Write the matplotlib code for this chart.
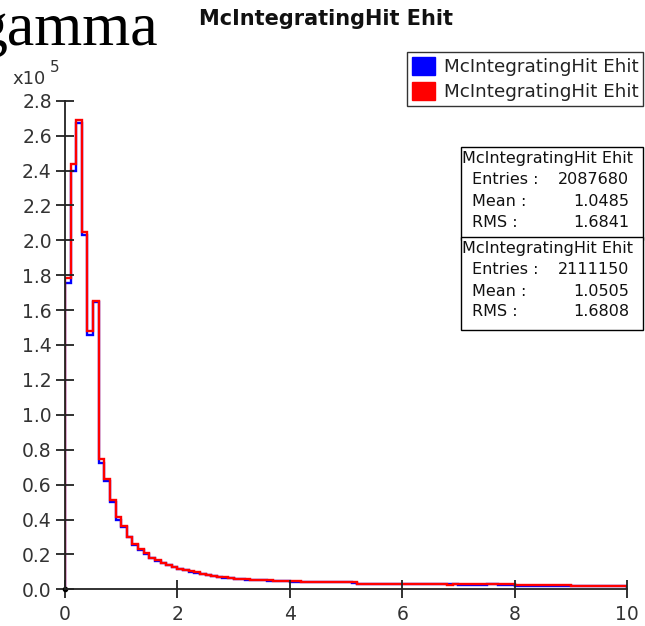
import numpy as np
import matplotlib
matplotlib.use("Agg")
import matplotlib.pyplot as plt
from matplotlib.patches import Patch, Rectangle

# ---- data (counts per 0.1 bin, in units of 1e5) ----
bin_edges = np.round(np.arange(0, 10.01, 0.1), 2)

red_counts = [
    1.785, 2.440, 2.690, 2.050, 1.480, 1.650, 0.745, 0.630, 0.510, 0.415,
    0.360, 0.300, 0.262, 0.230, 0.208, 0.182, 0.168, 0.152, 0.140, 0.130,
    0.118, 0.112, 0.104, 0.097, 0.090, 0.084, 0.078, 0.073, 0.068, 0.065,
    0.061, 0.059, 0.057, 0.055, 0.054, 0.052, 0.056, 0.050, 0.049, 0.048,
    0.047, 0.046, 0.043, 0.043, 0.042, 0.042, 0.042, 0.041, 0.041, 0.041,
    0.040, 0.040, 0.032, 0.032, 0.032, 0.031, 0.031, 0.031, 0.031, 0.031,
    0.030, 0.030, 0.030, 0.030, 0.030, 0.030, 0.030, 0.030, 0.025, 0.030,
    0.029, 0.029, 0.029, 0.029, 0.029, 0.029, 0.033, 0.028, 0.028, 0.028,
    0.022, 0.022, 0.022, 0.022, 0.022, 0.022, 0.022, 0.022, 0.022, 0.022,
    0.021, 0.021, 0.021, 0.021, 0.021, 0.021, 0.021, 0.021, 0.021, 0.021,
]

blue_counts = [
    1.755, 2.400, 2.670, 2.030, 1.455, 1.645, 0.725, 0.622, 0.500, 0.400,
    0.358, 0.298, 0.255, 0.228, 0.202, 0.180, 0.162, 0.150, 0.138, 0.128,
    0.117, 0.110, 0.100, 0.096, 0.086, 0.082, 0.076, 0.071, 0.066, 0.064,
    0.058, 0.058, 0.056, 0.054, 0.051, 0.051, 0.049, 0.049, 0.048, 0.047,
    0.043, 0.043, 0.042, 0.042, 0.041, 0.041, 0.041, 0.040, 0.040, 0.040,
    0.039, 0.035, 0.031, 0.031, 0.031, 0.030, 0.030, 0.030, 0.030, 0.030,
    0.029, 0.029, 0.029, 0.029, 0.029, 0.029, 0.029, 0.029, 0.029, 0.029,
    0.025, 0.025, 0.025, 0.025, 0.026, 0.028, 0.028, 0.027, 0.027, 0.027,
    0.021, 0.021, 0.021, 0.021, 0.021, 0.021, 0.021, 0.021, 0.021, 0.021,
    0.020, 0.020, 0.020, 0.020, 0.020, 0.020, 0.020, 0.020, 0.020, 0.020,
]

series_name = "McIntegratingHit Ehit"
stats_rows = [
    ("2087680", "1.0485", "1.6841"),   # blue
    ("2111150", "1.0505", "1.6808"),   # red
]
xticks = [0, 2, 4, 6, 8, 10]
yticks = np.round(np.arange(0, 2.81, 0.2), 1)

W, H = 645, 626
fig = plt.figure(figsize=(W / 100, H / 100), dpi=100)

def fx(px):
    return px / W

def fy(py):
    return 1 - py / H

# -----main plot-----
x0, x1, y0, y1 = 65, 627, 589.3, 100.7
ax = fig.add_axes([fx(x0), fy(y0), fx(x1 - x0), (y0 - y1) / H])
ax.stairs(blue_counts, bin_edges, color="#0000ff", linewidth=1.7, baseline=0)
ax.stairs(red_counts, bin_edges, color="#ff0000", linewidth=1.7, baseline=0)
ax.plot([0], [0], marker="o", markersize=3, color="black", clip_on=False)
ax.set_xlim(0, 10)
ax.set_ylim(0, 2.8)
ax.set_xticks(xticks)
ax.set_xticklabels([str(t) for t in xticks])
ax.set_yticks(yticks)
ax.set_yticklabels(["%.1f" % t for t in yticks])
for s in ["top", "right"]:
    ax.spines[s].set_visible(False)
for s in ["left", "bottom"]:
    ax.spines[s].set_linewidth(1.3)
    ax.spines[s].set_color("#222222")
ax.tick_params(direction="inout", length=13, width=1.3, color="#222222",
               labelsize=13.5, labelcolor="#333333")
ax.tick_params(axis="y", pad=3)
ax.tick_params(axis="x", pad=5)
ax.set_facecolor("none")

# -----texts-----
fig.text(fx(-24), fy(45), "gamma", fontsize=44.5, family="Liberation Serif",
         ha="left", va="baseline")
fig.text(fx(326), fy(19), series_name, fontsize=15, fontweight="bold",
         ha="center", va="center", color="#111111")
fig.text(fx(12), fy(84), "x10", fontsize=13, color="#333333",
         ha="left", va="baseline")
fig.text(fx(50), fy(72), "5", fontsize=11, color="#333333",
         ha="left", va="baseline")

# -----legend-----
handles = [Patch(facecolor="#0000ff", edgecolor="#0000ff", label=series_name),
           Patch(facecolor="#ff0000", edgecolor="#ff0000", label=series_name)]
leg = fig.legend(handles=handles, loc="upper right",
                 bbox_to_anchor=(fx(643), fy(52)), fontsize=13.2,
                 frameon=True, fancybox=False, edgecolor="black",
                 handlelength=1.3, handleheight=1.2, handletextpad=0.45,
                 borderpad=0.25, labelspacing=0.3, borderaxespad=0)
leg.get_frame().set_linewidth(1.0)
for t in leg.get_texts():
    t.set_color("#222222")

# -----stats boxes-----
bx0, bx1 = 461, 643
box_tops = [147, 237]
box_h = 93
for top, (entries, mean, rms) in zip(box_tops, stats_rows):
    fig.add_artist(Rectangle((fx(bx0), fy(top + box_h)), fx(bx1 - bx0), box_h / H,
                             transform=fig.transFigure, facecolor="white",
                             edgecolor="black", linewidth=1.0))
    fig.text(fx(462), fy(top + 11), series_name, fontsize=11.5,
             ha="left", va="center", color="#111111")
    for i, (lab, val) in enumerate([("Entries :", entries), ("Mean :", mean),
                                    ("RMS :", rms)]):
        yy = top + 33 + 21 * i
        fig.text(fx(472), fy(yy), lab, fontsize=11.5, ha="left", va="center",
                 color="#111111")
        fig.text(fx(629), fy(yy), val, fontsize=11.5, ha="right", va="center",
                 color="#111111")

fig.savefig("out.png", dpi=100)
